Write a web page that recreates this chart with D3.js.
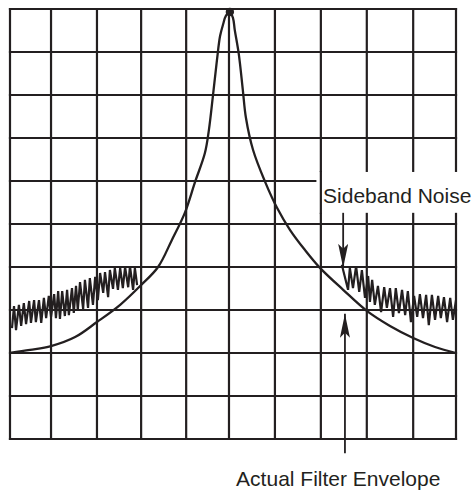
<!DOCTYPE html>
<html>
<head>
<meta charset="utf-8">
<script src="https://cdn.jsdelivr.net/npm/d3@7/dist/d3.min.js"></script>
<style>
  html, body { margin: 0; padding: 0; background: #fff; }
  svg { display: block; }
</style>
</head>
<body>
<svg id="chart" width="473" height="493"></svg>
<script>
// ---- Data (x in screen divisions 0..10, y in dB, 10 dB/div) ----
const gridX = [0, 0.92, 1.95, 2.94, 3.95, 4.91, 5.94, 6.97, 8.0, 9.04, 10];
const gridY = [0, -10, -20, -30, -40, -50, -60, -70, -80, -90, -100];

// Actual filter envelope
const envX = [0, 0.45, 0.92, 1.46, 1.95, 2.47, 2.94, 3.32, 3.63, 3.92, 4.15, 4.37, 4.46, 4.55, 4.64, 4.71, 4.78, 4.84, 4.93,
              5.00, 5.04, 5.13, 5.22, 5.29, 5.45, 5.72, 5.99, 6.28, 6.61, 6.95, 7.47, 8.00, 8.52, 9.04, 9.53, 10.0];
const envY = [-80.0, -79.3, -78.4, -76.3, -72.8, -68.8, -64.2, -60.0, -53.7, -47.4, -40.2, -33.5, -28.1, -20.2, -11.9, -6.3, -3.5, -1.6, -0.7,
              -2.1, -4.9, -10.5, -18.8, -25.3, -32.8, -40.2, -46.3, -51.4, -56.0, -60.2, -65.3, -70.2, -73.7, -76.5, -78.6, -80.0];

// Sideband noise, lower side
const noiseLX = [0.045, 0.09, 0.135, 0.20, 0.25, 0.31, 0.36, 0.43, 0.47, 0.54, 0.58, 0.65, 0.70, 0.76, 0.81, 0.87, 0.92, 0.99, 1.03, 1.08,
                 1.12, 1.17, 1.23, 1.28, 1.32, 1.39, 1.43, 1.48, 1.52, 1.57, 1.64, 1.68, 1.75, 1.79, 1.86, 1.91, 1.97, 2.02, 2.09, 2.13,
                 2.20, 2.24, 2.31, 2.35, 2.42, 2.47, 2.53, 2.58, 2.65, 2.69, 2.76, 2.80, 2.85];
const noiseLY = [-74.2, -69.1, -74.7, -68.8, -73.7, -68.4, -73.3, -67.9, -73.0, -67.7, -72.8, -67.7, -73.0, -67.2, -71.9, -66.7, -71.6, -66.3, -71.9, -65.6,
                 -72.1, -65.6, -71.4, -65.3, -71.2, -64.9, -70.7, -64.4, -70.0, -63.5, -69.8, -63.0, -69.5, -62.6, -68.8, -62.3, -67.7, -61.4, -66.0, -61.2,
                 -67.0, -60.7, -65.1, -60.2, -65.3, -60.2, -64.9, -60.0, -64.7, -59.8, -65.3, -60.2, -64.2];

// Sideband noise, upper side
const noiseRX = [7.44, 7.58, 7.62, 7.69, 7.76, 7.83, 7.89, 7.96, 8.03, 8.07, 8.12, 8.18, 8.25, 8.32, 8.39, 8.45, 8.52, 8.59, 8.65, 8.72,
                 8.79, 8.86, 8.92, 8.99, 9.06, 9.13, 9.19, 9.26, 9.33, 9.39, 9.46, 9.53, 9.60, 9.66, 9.73, 9.80, 9.87, 9.93, 10.0];
const noiseRY = [-59.5, -65.3, -60.2, -64.9, -59.8, -65.8, -60.7, -67.2, -62.1, -68.1, -63.0, -68.8, -64.4, -70.5, -64.7, -69.5, -64.9, -71.6, -64.9, -70.7,
                 -65.3, -71.2, -65.6, -72.8, -66.7, -71.6, -66.3, -71.9, -66.5, -73.5, -66.5, -72.3, -66.7, -71.9, -67.0, -72.8, -67.2, -72.3, -67.7];

const peak = { x: 4.93, y: -0.7 };

const labels = [
  { text: "Sideband Noise", x: 7.02, y: -45.1 },
  { text: "Actual Filter Envelope", x: 5.07, y: -110.9 }
];
const arrows = [
  { x1: 7.47, y1: -47.4, x2: 7.47, y2: -60.2 },
  { x1: 7.51, y1: -103.3, x2: 7.51, y2: -70.9 }
];
// white label backdrop (data units)
const labelBox = { x0: 6.87, x1: 10.4, y0: -37.9, y1: -47.4 };

// ---- Drawing ----
const ink = "#231f20";
const svg = d3.select("#chart");
svg.append("rect").attr("width", 473).attr("height", 493).attr("fill", "#fff");

const x = d3.scaleLinear().domain([0, 10]).range([10, 456]);
const y = d3.scaleLinear().domain([-100, 0]).range([439, 9]);

const defs = svg.append("defs");
defs.append("marker")
  .attr("id", "ah")
  .attr("viewBox", "0 0 24 10")
  .attr("refX", 24).attr("refY", 5)
  .attr("markerWidth", 24).attr("markerHeight", 10)
  .attr("markerUnits", "userSpaceOnUse")
  .attr("orient", "auto")
  .append("path")
  .attr("d", "M0,0 L24,5 L0,10 L5,5 Z")
  .attr("fill", ink);

const grid = svg.append("g").attr("stroke", ink).attr("stroke-width", 2.2).attr("stroke-linecap", "square");
grid.selectAll("line.v").data(gridX).join("line").attr("class", "v")
  .attr("x1", d => x(d)).attr("x2", d => x(d))
  .attr("y1", y(0)).attr("y2", y(-100));
grid.selectAll("line.h").data(gridY).join("line").attr("class", "h")
  .attr("x1", x(0)).attr("x2", x(10))
  .attr("y1", d => y(d)).attr("y2", d => y(d));

// backdrop for label that interrupts grid
svg.append("rect")
  .attr("x", x(labelBox.x0)).attr("y", y(labelBox.y0))
  .attr("width", x(labelBox.x1) - x(labelBox.x0))
  .attr("height", y(labelBox.y1) - y(labelBox.y0))
  .attr("fill", "#fff");
// the grid line at the box's left edge stays continuous
svg.append("line")
  .attr("x1", x(gridX[7])).attr("x2", x(gridX[7]))
  .attr("y1", y(labelBox.y0) - 1).attr("y2", y(labelBox.y1) + 1)
  .attr("stroke", ink).attr("stroke-width", 2.2);

const lineGen = d3.line().x(d => x(d[0])).y(d => y(d[1]));

svg.append("path")
  .datum(d3.zip(envX, envY))
  .attr("d", lineGen.curve(d3.curveCatmullRom.alpha(0.5)))
  .attr("fill", "none").attr("stroke", ink).attr("stroke-width", 2.3);

const noiseLine = d3.line().x(d => x(d[0])).y(d => y(d[1])).curve(d3.curveLinear);
[d3.zip(noiseLX, noiseLY), d3.zip(noiseRX, noiseRY)].forEach(pts => {
  svg.append("path")
    .datum(pts)
    .attr("d", noiseLine)
    .attr("fill", "none").attr("stroke", ink).attr("stroke-width", 2.2)
    .attr("stroke-linejoin", "miter").attr("stroke-miterlimit", 6);
});

svg.append("circle")
  .attr("cx", x(peak.x)).attr("cy", y(peak.y)).attr("r", 4.2).attr("fill", ink);

svg.selectAll("line.arrow").data(arrows).join("line").attr("class", "arrow")
  .attr("x1", d => x(d.x1)).attr("y1", d => y(d.y1))
  .attr("x2", d => x(d.x2)).attr("y2", d => y(d.y2))
  .attr("stroke", ink).attr("stroke-width", 1.8)
  .attr("marker-end", "url(#ah)");

svg.selectAll("text.lbl").data(labels).join("text").attr("class", "lbl")
  .attr("x", d => x(d.x)).attr("y", d => y(d.y))
  .attr("font-family", "Liberation Sans, Arial, sans-serif")
  .attr("font-size", 21)
  .attr("fill", ink)
  .text(d => d.text);
</script>
</body>
</html>
